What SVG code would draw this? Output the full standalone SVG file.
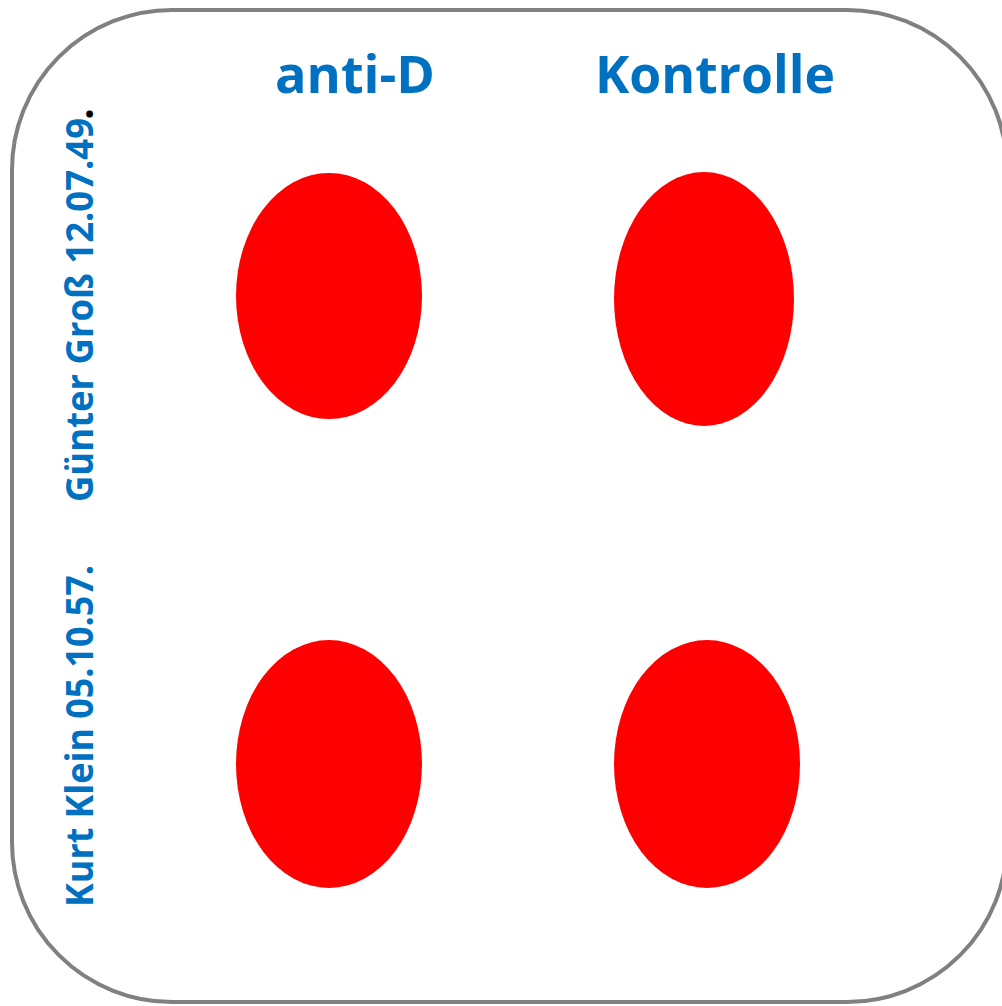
<svg xmlns="http://www.w3.org/2000/svg" width="1002" height="1006" viewBox="0 0 1002 1006">
<style>
.lbl{font-family:"Open Sans","Liberation Sans",sans-serif;font-weight:bold;fill:#0070C0}
.dot{fill:#FF0000}
</style>
<rect width="1002" height="1006" fill="#FFFFFF"/>
<g id="card">
<rect x="12" y="10" width="995" height="992" rx="160" ry="160" fill="#FFFFFF" stroke="#808080" stroke-width="4"/>
</g>
<g id="header-antiD"><text class="lbl" x="275" y="93" font-size="52" textLength="160" lengthAdjust="spacingAndGlyphs">anti-D</text></g>
<g id="header-kontrolle"><text class="lbl" x="595" y="93" font-size="52" textLength="240" lengthAdjust="spacingAndGlyphs">Kontrolle</text></g>
<g id="label-guenter"><text class="lbl" transform="translate(93,502) rotate(-90)" font-size="37" textLength="384" lengthAdjust="spacingAndGlyphs">Günter Groß 12.07.49</text><text transform="translate(93,120) rotate(-90)" font-size="42" font-family="Open Sans, sans-serif" font-weight="bold" fill="#000000">.</text></g>
<g id="label-kurt"><text class="lbl" transform="translate(93,907) rotate(-90)" font-size="37" textLength="342" lengthAdjust="spacingAndGlyphs">Kurt Klein 05.10.57.</text></g>
<g id="dot-tl"><ellipse class="dot" cx="329" cy="296" rx="93" ry="123"/></g>
<g id="dot-tr"><ellipse class="dot" cx="704" cy="299" rx="90" ry="127"/></g>
<g id="dot-bl"><ellipse class="dot" cx="329" cy="764" rx="93" ry="124"/></g>
<g id="dot-br"><ellipse class="dot" cx="707" cy="764" rx="93" ry="124"/></g>
<g id="connectors"></g>
</svg>
